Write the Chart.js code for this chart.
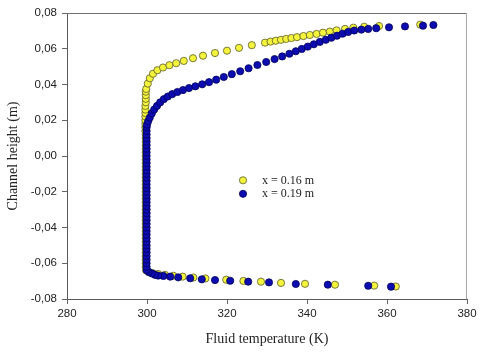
<!DOCTYPE html>
<html>
<head>
<meta charset="utf-8">
<script src="https://cdn.jsdelivr.net/npm/chart.js@4"></script>
<style>
  body { margin: 0; background: #fff; }
  #wrap { width: 480px; height: 353px; }
</style>
</head>
<body>
<div id="wrap"><canvas id="chart" width="480" height="353"></canvas></div>
<script>
// series labels
const SERIES_LABELS = [ 'x = 0.16 m', 'x = 0.19 m' ];

// axis ticks
const X_TICKS = [ 280, 300, 320, 340, 360, 380 ];
const Y_TICKS = [ -0.08, -0.06, -0.04, -0.02, 0.00, 0.02, 0.04, 0.06, 0.08 ];

// [fluid temperature (K), channel height (m)]
const yellow_points = [
  // bottom tail
  [299.8,-0.0640],[300.5,-0.0650],[301.5,-0.0656],[302.8,-0.0660],[304.5,-0.0665],
  [306.6,-0.0670],[308.9,-0.0675],[311.6,-0.0680],[314.6,-0.0685],[319.8,-0.0692],
  [324.1,-0.0699],[328.5,-0.0703],[333.5,-0.0710],[339.5,-0.0715],[347.0,-0.0720],
  [356.8,-0.0725],[362.2,-0.0730],
  // near the wall
  [299.7,-0.062],[299.7,-0.060],[299.7,-0.058],[299.7,-0.056],[299.7,-0.054],
  [299.7,-0.052],[299.7,-0.050],[299.7,-0.048],[299.7,-0.046],[299.7,-0.044],
  [299.7,-0.042],[299.7,-0.040],[299.7,-0.038],[299.7,-0.036],[299.7,-0.034],
  [299.7,-0.032],[299.7,-0.030],[299.7,-0.028],[299.7,-0.026],[299.7,-0.024],
  [299.7,-0.022],[299.7,-0.020],[299.7,-0.018],[299.7,-0.016],[299.7,-0.014],
  [299.7,-0.012],[299.7,-0.010],[299.7,-0.008],[299.7,-0.006],[299.7,-0.004],
  [299.7,-0.002],[299.7,0.000],[299.7,0.002],[299.7,0.004],[299.7,0.006],
  [299.7,0.008],[299.7,0.010],[299.7,0.012],[299.6,0.014],[299.6,0.016],
  [299.6,0.018],[299.6,0.020],[299.6,0.022],[299.6,0.024],[299.6,0.026],
  [299.6,0.028],[299.7,0.030],[299.7,0.032],[299.7,0.034],[299.7,0.036],
  // upper curve
  [299.8,0.0375],[300.2,0.0405],[300.7,0.0435],[301.5,0.0460],[302.6,0.0480],
  [304.0,0.0495],[305.6,0.0508],[307.3,0.0519],[309.2,0.0532],[311.5,0.0547],
  [314.0,0.0561],[317.0,0.0576],[320.0,0.0589],[323.0,0.0605],[326.2,0.0620],
  [329.5,0.0634],[330.9,0.0640],[332.2,0.0645],[333.5,0.0650],[334.8,0.0655],
  [336.1,0.0660],[337.5,0.0665],[339.1,0.0671],[340.7,0.0677],[342.4,0.0683],
  [344.0,0.0690],[345.7,0.0696],[347.4,0.0703],[349.5,0.0711],[351.6,0.0718],
  [354.3,0.0723],[358.0,0.0727],[368.3,0.0735]
];

const blue_points = [
  // bottom tail
  [361.0,-0.0731],[355.3,-0.0726],[345.2,-0.0720],[337.2,-0.0716],[330.5,-0.0707],
  [325.3,-0.0703],[320.8,-0.0698],[317.0,-0.0694],[313.7,-0.0690],[310.8,-0.0684],
  [307.8,-0.0679],[305.8,-0.0675],[304.1,-0.0671],[302.8,-0.0669],[302.0,-0.0665],
  [301.2,-0.0657],[300.4,-0.0648],[299.9,-0.0638],
  // near the wall
  [299.9,-0.062],[299.9,-0.060],[299.9,-0.058],[299.9,-0.056],[299.9,-0.054],
  [299.9,-0.052],[299.9,-0.050],[299.9,-0.048],[299.9,-0.046],[299.9,-0.044],
  [299.9,-0.042],[299.9,-0.040],[299.9,-0.038],[299.9,-0.036],[299.9,-0.034],
  [299.9,-0.032],[299.9,-0.030],[299.9,-0.028],[299.9,-0.026],[299.9,-0.024],
  [299.9,-0.022],[299.9,-0.020],[299.9,-0.018],[299.9,-0.016],[299.9,-0.014],
  [299.9,-0.012],[299.9,-0.010],[299.9,-0.008],[299.9,-0.006],[299.9,-0.004],
  [299.9,-0.002],[299.9,0.000],[299.9,0.002],[299.9,0.004],[299.9,0.006],
  [299.9,0.008],[299.9,0.010],[299.9,0.012],[299.9,0.014],[299.9,0.016],
  // upper curve
  [300.0,0.0175],[300.3,0.0195],[300.7,0.0215],[301.2,0.0238],[301.8,0.0260],
  [302.5,0.0280],[303.3,0.0300],[304.2,0.0318],[305.2,0.0333],[306.3,0.0346],
  [307.6,0.0358],[309.0,0.0369],[310.5,0.0380],[312.1,0.0390],[313.8,0.0401],
  [315.5,0.0413],[317.3,0.0427],[319.2,0.0442],[321.2,0.0458],[323.3,0.0474],
  [325.4,0.0491],[327.6,0.0509],[329.8,0.0526],[331.9,0.0542],[333.8,0.0557],
  [335.6,0.0572],[337.2,0.0586],[338.7,0.0599],[340.2,0.0612],[341.7,0.0625],
  [343.2,0.0638],[344.7,0.0650],[346.1,0.0662],[347.5,0.0673],[348.9,0.0684],
  [350.3,0.0694],[351.8,0.0702],[353.6,0.0707],[355.3,0.0711],[357.3,0.0715],
  [360.5,0.0720],[364.5,0.0725],[369.0,0.0729],[371.6,0.0733]
];

const POINT_STYLES = [
  { fill: '#f4f43c', border: '#5a5a2a' },
  { fill: '#0c0cb0', border: '#00005a' }
];

function to_xy( list_in ) {
  return list_in.map( p => ( { x: p[ 0 ], y: p[ 1 ] } ) );
}

function comma_label( v ) {
  return v.toFixed( 2 ).replace( '-0.00', '0.00' ).replace( '.', ',' );
}

// top / right frame lines, lighter than the axes
const frame_plugin = {
  id: 'frame',
  afterDraw( chart ) {
    const a = chart.chartArea;
    const ctx = chart.ctx;
    ctx.save();
    ctx.lineWidth = 1;
    ctx.strokeStyle = '#707070';
    ctx.beginPath();
    ctx.moveTo( a.left, a.top + 0.5 );
    ctx.lineTo( a.right, a.top + 0.5 );
    ctx.stroke();
    ctx.strokeStyle = '#a8a8a8';
    ctx.beginPath();
    ctx.moveTo( a.right - 0.5, a.top );
    ctx.lineTo( a.right - 0.5, a.bottom );
    ctx.stroke();
    ctx.restore();
  }
};

// legend sitting inside the plot
const inner_legend = {
  id: 'innerLegend',
  afterDatasetsDraw( chart ) {
    const a = chart.chartArea;
    const ctx = chart.ctx;
    const mx = a.left + ( a.right - a.left ) * 0.44;
    const my = a.top + ( a.bottom - a.top ) * 0.585;
    ctx.save();
    ctx.font = '12px "Liberation Serif", "Times New Roman", serif';
    ctx.textBaseline = 'middle';
    SERIES_LABELS.forEach( ( label, i ) => {
      const y = my + i * 13.5;
      ctx.beginPath();
      ctx.arc( mx, y, 3.6, 0, Math.PI * 2 );
      ctx.fillStyle = POINT_STYLES[ i ].fill;
      ctx.fill();
      ctx.lineWidth = 0.8;
      ctx.strokeStyle = POINT_STYLES[ i ].border;
      ctx.stroke();
      ctx.fillStyle = '#222';
      ctx.fillText( label, mx + 19, y + 0.5 );
    } );
    ctx.restore();
  }
};

function make_dataset( idx, points, order ) {
  return {
    label: SERIES_LABELS[ idx ],
    data: to_xy( points ),
    backgroundColor: POINT_STYLES[ idx ].fill,
    borderColor: POINT_STYLES[ idx ].border,
    pointRadius: 3.6,
    pointBorderWidth: 0.8,
    showLine: false,
    order: order
  };
}

const tick_font = { family: '"Liberation Sans", Arial, sans-serif', size: 11.5 };
const title_font = { family: '"Liberation Serif", "Times New Roman", serif', size: 14 };

new Chart( document.getElementById( 'chart' ).getContext( '2d' ), {
  type: 'scatter',
  data: {
    datasets: [
      make_dataset( 0, yellow_points, 1 ),
      make_dataset( 1, blue_points, 0 )
    ]
  },
  options: {
    responsive: false,
    animation: false,
    layout: { padding: { top: 13, right: 13, left: 0, bottom: 0 } },
    plugins: {
      legend: { display: false },
      tooltip: { enabled: false }
    },
    scales: {
      x: {
        type: 'linear',
        min: X_TICKS[ 0 ],
        max: X_TICKS[ X_TICKS.length - 1 ],
        afterBuildTicks: axis => { axis.ticks = X_TICKS.map( v => ( { value: v } ) ); },
        afterFit: axis => { axis.height = 54; },
        ticks: { font: tick_font, color: '#222', padding: 3, maxRotation: 0 },
        grid: { drawOnChartArea: false, tickLength: 5, color: '#666' },
        border: { color: '#5a5a5a', width: 1 },
        title: { display: true, text: 'Fluid temperature (K)', font: title_font, color: '#222', padding: { top: 0, bottom: 5 } }
      },
      y: {
        type: 'linear',
        min: Y_TICKS[ 0 ],
        max: Y_TICKS[ Y_TICKS.length - 1 ],
        afterBuildTicks: axis => { axis.ticks = Y_TICKS.map( v => ( { value: v } ) ); },
        afterFit: axis => { axis.width = 67; },
        ticks: { font: tick_font, color: '#222', padding: 5, callback: v => comma_label( v ) },
        grid: { drawOnChartArea: false, tickLength: 5, color: '#666' },
        border: { color: '#5a5a5a', width: 1 },
        title: { display: true, text: 'Channel height (m)', font: title_font, color: '#222', padding: { top: 5, bottom: 0 } }
      }
    }
  },
  plugins: [ frame_plugin, inner_legend ]
} );
</script>
</body>
</html>
